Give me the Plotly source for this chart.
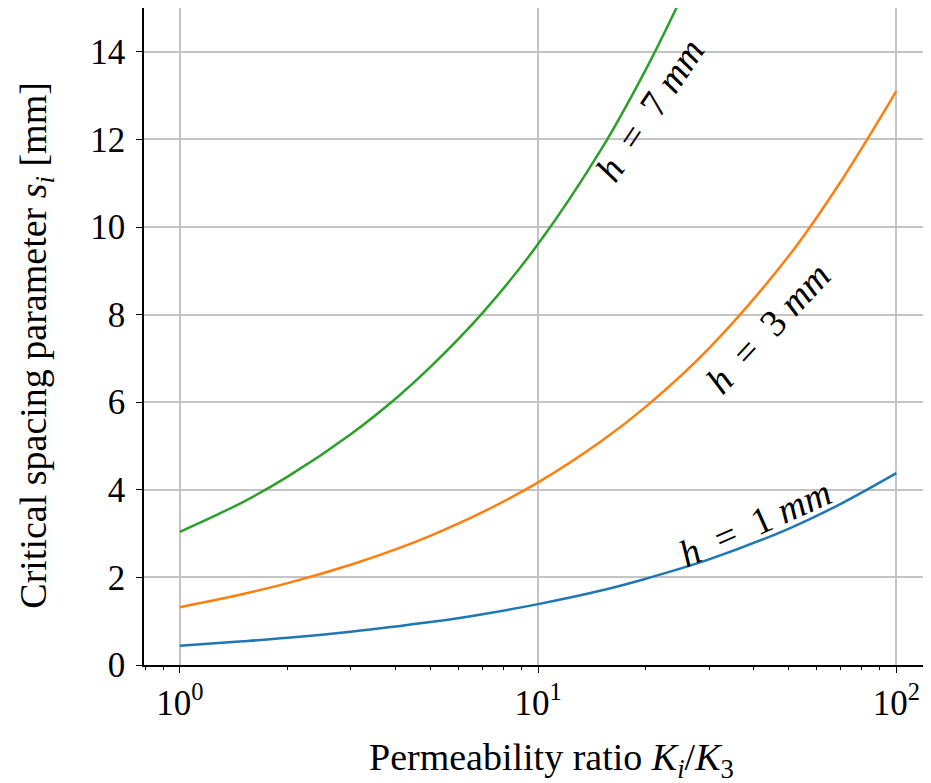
import math
import plotly.graph_objects as go

# Permeability ratio samples (x) and critical spacing readings (mm)
ratio = [1, 1.5, 2, 3, 4, 5, 7, 10, 15, 20, 30, 50, 70, 100]
s_h1 = [0.44, 0.54, 0.62, 0.76, 0.88, 0.98, 1.16, 1.39, 1.70, 1.97, 2.41, 3.11, 3.68, 4.38]
s_h3 = [1.32, 1.62, 1.87, 2.29, 2.64, 2.95, 3.49, 4.17, 5.11, 5.90, 7.23, 9.33, 11.04, 13.1]
ratio_h7 = [1, 1.5, 2, 3, 4, 5, 7, 10, 15, 20, 25, 30]
s_h7 = [3.04, 3.72, 4.30, 5.27, 6.08, 6.80, 8.04, 9.61, 11.77, 13.60, 15.2, 16.6]

labels = ["<i>h</i> = 1 <i>mm</i>", "<i>h</i> = 3 <i>mm</i>", "<i>h</i> = 7 <i>mm</i>"]
label_x = [40.3, 43.8, 20.5]
label_y = [3.25, 7.7, 12.67]
label_angle = [-24, -47, -56]

x_tickvals = [1, 10, 100]
x_ticktext = ["10<sup>0</sup>", "10<sup>1</sup>", "10<sup>2</sup>"]
x_minor = [0.8, 0.9, 2, 3, 4, 5, 6, 7, 8, 9, 20, 30, 40, 50, 60, 70, 80, 90]
y_tickvals = [0, 2, 4, 6, 8, 10, 12, 14]

colors = ["#1f77b4", "#ff7f0e", "#2ca02c"]
serif = "Liberation Serif"

fig = go.Figure()
for xs, ys, c in [(ratio, s_h1, colors[0]), (ratio, s_h3, colors[1]), (ratio_h7, s_h7, colors[2])]:
    fig.add_trace(go.Scatter(x=xs, y=ys, mode="lines", line=dict(color=c, width=2.5, shape="spline"),
                             showlegend=False, hoverinfo="skip"))

for t, lx, ly, a in zip(labels, label_x, label_y, label_angle):
    fig.add_annotation(x=math.log10(lx), y=ly, xref="x", yref="y",
                       text=t.replace(" = ", "\u2002=\u2002"), textangle=a,
                       showarrow=False, font=dict(family=serif, size=38, color="black"))

fig.add_annotation(x=0.519, y=-95 / 657, xref="paper", yref="paper",
                   text="Permeability ratio <i>K<sub>i</sub></i>/<i>K</i><sub>3</sub>",
                   showarrow=False, font=dict(family=serif, size=38, color="black"),
                   xanchor="center", yanchor="middle")
fig.add_annotation(x=-108 / 786, y=0.486, xref="paper", yref="paper",
                   text="Critical spacing parameter <i>s<sub>i</sub></i> [mm]", textangle=-90,
                   showarrow=False, font=dict(family=serif, size=38, color="black"),
                   xanchor="center", yanchor="middle")

axis_common = dict(showline=True, linecolor="black", linewidth=1.5, mirror=True,
                   ticks="outside", ticklen=6, tickwidth=1.2, tickcolor="black",
                   showgrid=True, gridcolor="#c4c4c4", gridwidth=1.5, zeroline=False,
                   automargin=False,
                   tickfont=dict(family=serif, size=35, color="black"))

fig.update_xaxes(type="log", range=[-0.1, 2.094], tickmode="array", tickvals=x_tickvals,
                 ticktext=x_ticktext,
                 minor=dict(tickmode="array", tickvals=x_minor, ticks="outside", ticklen=3,
                            tickcolor="black", showgrid=False),
                 **axis_common)
fig.update_yaxes(range=[0, 15], tickmode="array", tickvals=y_tickvals, ticklabelstandoff=4,
                 **axis_common)

# the page body adds an 8px offset, so margins are shifted by -8
fig.update_layout(width=931, height=783, plot_bgcolor="white", paper_bgcolor="white",
                  margin=dict(l=136, r=9, t=0, b=126, autoexpand=False), showlegend=False)

fig.write_html("out.html")
